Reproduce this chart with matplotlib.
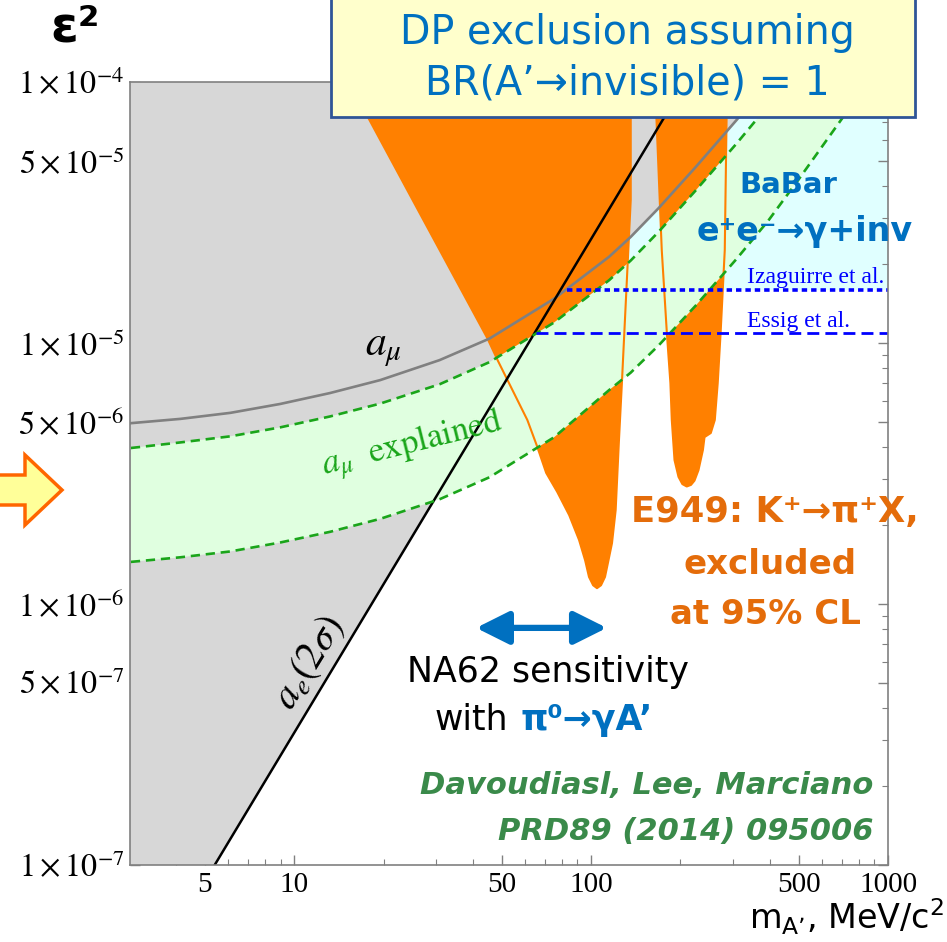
import numpy as np
import matplotlib
matplotlib.use('Agg')
import matplotlib.pyplot as plt
from matplotlib.patches import Rectangle, Polygon

# --- кривые и области (m в МэВ, eps^2) ---
# a_mu, серая кривая
amu_mass = [2.82, 4.14, 6.10, 8.97, 13.2, 19.5, 30.9, 45.5, 75.2, 115, 136, 169,
            225, 309, 395]
amu_eps2 = [4.93e-6, 5.12e-6, 5.40e-6, 5.84e-6, 6.43e-6, 7.21e-6, 8.60e-6,
            1.04e-5, 1.48e-5, 2.14e-5, 2.55e-5, 3.29e-5, 4.72e-5, 7.15e-5, 1e-4]

# a_e (2 sigma), чёрная прямая
ae_mass = [5.4, 208]
ae_eps2 = [1e-7, 1e-4]

# полоса "a_mu explained": верхняя и нижняя границы
up_mass = [2.82, 4.14, 6.10, 8.97, 13.2, 19.5, 30.9, 45.5, 75.2, 115, 136, 169,
           225, 309, 395, 455]
up_eps2 = [3.96e-6, 4.16e-6, 4.39e-6, 4.75e-6, 5.23e-6, 5.86e-6, 6.95e-6,
           8.45e-6, 1.20e-5, 1.74e-5, 2.07e-5, 2.67e-5, 3.84e-5, 5.81e-5,
           8.13e-5, 1e-4]
low_mass = [2.82, 4.14, 6.10, 8.97, 13.2, 19.5, 30.9, 45.5, 75.2, 115, 136, 169,
            225, 309, 395, 499, 734, 875]
low_eps2 = [1.45e-6, 1.51e-6, 1.59e-6, 1.72e-6, 1.89e-6, 2.12e-6, 2.52e-6,
            3.06e-6, 4.36e-6, 6.60e-6, 7.70e-6, 9.80e-6, 1.39e-5, 2.10e-5,
            2.94e-5, 4.22e-5, 7.81e-5, 1e-4]

# E949, первая область
e949a_mass = [15.3, 26.1, 44.8, 48.4, 61.0, 65.9, 70.6, 76.9, 84.4, 91.1, 95.5,
              98.4, 101.6, 104.7, 108, 111.4, 114, 117.6, 121, 124, 127, 131,
              136, 136]
e949a_eps2 = [1e-4, 3.24e-5, 1.04e-5, 8.61e-6, 5.07e-6, 4.00e-6, 3.18e-6,
              2.69e-6, 2.19e-6, 1.76e-6, 1.47e-6, 1.27e-6, 1.18e-6, 1.15e-6,
              1.18e-6, 1.27e-6, 1.44e-6, 1.71e-6, 2.29e-6, 4.14e-6, 7.03e-6,
              1.46e-5, 3.53e-5, 1e-4]

# E949, вторая область
e949b_mass = [165, 166, 173, 180, 185, 187, 191, 197, 203, 210, 217, 223, 230,
              238, 241, 253, 261, 267, 273, 282, 286, 290]
e949b_eps2 = [1e-4, 7.28e-5, 2.27e-5, 1.09e-5, 7.03e-6, 5.07e-6, 3.56e-6,
              3.07e-6, 2.88e-6, 2.82e-6, 2.86e-6, 2.97e-6, 3.26e-6, 3.89e-6,
              4.36e-6, 4.52e-6, 5.07e-6, 7.03e-6, 1.09e-5, 2.27e-5, 7.28e-5, 1e-4]

# BaBar и оценки
babar_eps2 = 1.6e-5
izag_start, izag_eps2 = 83, 1.6e-5
essig_start, essig_eps2 = 65, 1.09e-5

# чувствительность NA62
na62_range = [41, 113]
na62_eps2 = 8.1e-7

xmin, xmax = 2.8, 1000
ymin, ymax = 1e-7, 1e-4

W, H = 947, 942


def fx(x, y):
    # пиксели -> доли фигуры
    return x / W, 1 - y / H


fig = plt.figure(figsize=(W / 100, H / 100), dpi=100)
ax = fig.add_axes([130 / W, 1 - 865 / H, 758 / W, 783 / H])
ax.set_xscale('log')
ax.set_yscale('log')
ax.set_xlim(xmin, xmax)
ax.set_ylim(ymin, ymax)

ORANGE = '#ff8000'
GRAY = '#d7d7d7'
GREEN = '#1aa51a'

# BaBar
ax.fill_between([xmin, xmax], babar_eps2, ymax, color='#e0ffff', lw=0, zorder=1)

# серая область: слева от a_e и выше a_mu
ax.fill([xmin, ae_mass[0], ae_mass[1], xmin], [ymin, ae_eps2[0], ae_eps2[1], ymax],
        color=GRAY, lw=0, zorder=2)
ax.fill_between(amu_mass, amu_eps2, ymax, color=GRAY, lw=0, zorder=2)

# E949
ax.fill(e949a_mass, e949a_eps2, color=ORANGE, lw=0, zorder=3)
ax.fill(e949b_mass, e949b_eps2, color=ORANGE, lw=0, zorder=3)

# полоса a_mu explained
ax.fill(up_mass + low_mass[::-1], up_eps2 + low_eps2[::-1], color='#e0ffe0', lw=0, zorder=4)
ax.plot(e949a_mass, e949a_eps2, color=ORANGE, lw=1.5, zorder=5)
ax.plot(e949b_mass, e949b_eps2, color=ORANGE, lw=1.5, zorder=5)

ax.plot(amu_mass, amu_eps2, color='#808080', lw=1.9, zorder=6)
ax.plot(ae_mass, ae_eps2, color='black', lw=1.8, zorder=6)
ax.plot(up_mass, up_eps2, color=GREEN, lw=1.9, dashes=[3.5, 2.2], zorder=7)
ax.plot(low_mass, low_eps2, color=GREEN, lw=1.9, dashes=[3.5, 2.2], zorder=7)

ax.plot([izag_start, xmax], [izag_eps2] * 2, color='#0000ff', lw=2.6, dashes=[1.5, 1.1], zorder=8)
ax.plot([essig_start, xmax], [essig_eps2] * 2, color='#0000ff', lw=2.0, dashes=[4.3, 2.2], zorder=8)

# оси в стиле Mathematica
for s in ax.spines.values():
    s.set_color('#808080')
    s.set_linewidth(1.2)
    s.set_zorder(10)
ax.set_xticks([5, 10, 50, 100, 500, 1000])
ax.set_xticklabels(['5', '10', '50', '100', '500', '1000'], fontsize=21,
                   family='Liberation Serif')
ax.set_yticks([1e-7, 5e-7, 1e-6, 5e-6, 1e-5, 5e-5, 1e-4])
ax.set_yticklabels([r'$1\times10^{-7}$', r'$5\times10^{-7}$', r'$1\times10^{-6}$',
                    r'$5\times10^{-6}$', r'$1\times10^{-5}$', r'$5\times10^{-5}$',
                    r'$1\times10^{-4}$'], fontsize=23, math_fontfamily='stix')
ax.tick_params(which='both', direction='in', top=True, right=True, color='#808080')
ax.tick_params(which='major', length=7, width=1)
ax.tick_params(which='minor', length=4, width=0.8)
ax.tick_params(axis='x', pad=5)
ax.tick_params(axis='y', pad=4)

# подписи кривых
ax.text(17.3, 9.0e-6, r'$a_\mu$', fontsize=30, math_fontfamily='stix', zorder=9)
fig.text(*fx(318, 474), r'$a_\mu\ \ \mathrm{explained}$', fontsize=25, color=GREEN,
         math_fontfamily='stix', rotation=14, ha='left', va='baseline')
fig.text(*fx(308, 662), r'$a_e(2\sigma)$', fontsize=29, math_fontfamily='stix',
         rotation=58.5, ha='center', va='center')

# стрелка NA62
ax.annotate('', xy=(na62_range[1], na62_eps2), xytext=(na62_range[0], na62_eps2),
            arrowprops=dict(arrowstyle='<|-|>,head_length=2.0,head_width=1.0',
                            color='#0070c0', lw=4.5, shrinkA=0, shrinkB=0), zorder=9)

# тексты
fig.text(*fx(75, 27), 'ε²', fontsize=36, fontweight='bold', ha='center', va='center')

fig.add_artist(Rectangle(fx(331, 117), 584 / W, 130 / H, facecolor='#ffffcc',
                         edgecolor='#2f5597', lw=2, zorder=20))
fig.text(*fx(627, 33), 'DP exclusion assuming', fontsize=28.5, color='#0070c0',
         ha='center', va='center', zorder=21)
fig.text(*fx(627, 83), 'BR(A’→invisible) = 1', fontsize=28.5, color='#0070c0',
         ha='center', va='center', zorder=21)

fig.text(*fx(788, 185), 'BaBar', fontsize=21, fontweight='bold', color='#0070c0',
         ha='center', va='center')
fig.text(*fx(805, 232), 'e⁺e⁻→γ+inv', fontsize=24, fontweight='bold', color='#0070c0',
         ha='center', va='center')

fig.text(*fx(747, 283), 'Izaguirre et al.', fontsize=17, color='#0000ff',
         family='Liberation Serif', ha='left', va='baseline')
fig.text(*fx(747, 327), 'Essig et al.', fontsize=17, color='#0000ff',
         family='Liberation Serif', ha='left', va='baseline')

E_COL = '#e46c0a'
fig.text(*fx(775, 512), 'E949: K⁺→π⁺X,', fontsize=25.5, fontweight='bold', color=E_COL,
         ha='center', va='center')
fig.text(*fx(770, 565), 'excluded', fontsize=24.5, fontweight='bold', color=E_COL,
         ha='center', va='center')
fig.text(*fx(765, 615), 'at 95% CL', fontsize=24.5, fontweight='bold', color=E_COL,
         ha='center', va='center')

fig.text(*fx(548, 672), 'NA62 sensitivity', fontsize=25, ha='center', va='center')
fig.text(*fx(508, 720), 'with', fontsize=25, ha='right', va='center')
fig.text(*fx(520, 720), 'π⁰→γA’', fontsize=25, fontweight='bold', color='#0070c0',
         ha='left', va='center')

D_COL = '#3a8a4a'
fig.text(*fx(873, 785), 'Davoudiasl, Lee, Marciano', fontsize=22, fontweight='bold',
         fontstyle='italic', color=D_COL, ha='right', va='center')
fig.text(*fx(873, 832), 'PRD89 (2014) 095006', fontsize=22, fontweight='bold',
         fontstyle='italic', color=D_COL, ha='right', va='center')

fig.text(*fx(944, 929), r'm$_{\mathregular{A’}}$, MeV/c$^{\mathregular{2}}$', fontsize=24,
         ha='right', va='baseline')

# жёлтая стрелка слева
arrow_px = [(-5, 475), (25, 475), (25, 455), (62, 490), (25, 525), (25, 505), (-5, 505)]
fig.add_artist(Polygon([fx(x, y) for x, y in arrow_px], closed=True,
                       facecolor='#ffff99', edgecolor='#ff6600', lw=2.5))

plt.savefig('out.png', dpi=100)
